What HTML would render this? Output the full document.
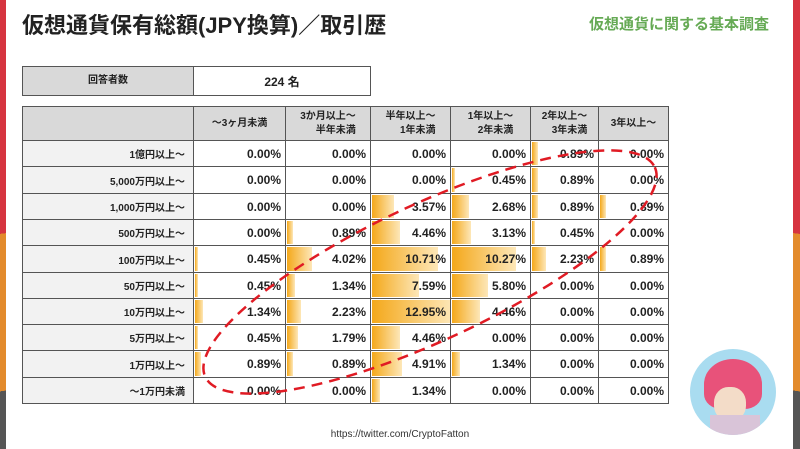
<!DOCTYPE html>
<html><head><meta charset="utf-8"><style>
body{margin:0;width:800px;height:449px;background:#fff;position:relative;overflow:hidden;font-family:"Liberation Sans","Noto Sans CJK JP",sans-serif}
.a{position:absolute}
.c{position:absolute;box-sizing:border-box;border:1px solid #555;font-weight:bold;font-size:12px;color:#222;overflow:hidden}
.bar{position:absolute;left:1px;top:1px;bottom:1px;background:linear-gradient(to right,#f4a81a,#fde7b8)}
.t{position:absolute;right:4px;top:0;bottom:0;display:flex;align-items:center}
.h{background:#d9d9d9;font-size:10px;display:flex;align-items:center;justify-content:center;text-align:right;line-height:14px}
.l{background:#f2f2f2;font-size:10px}
</style></head><body>
<div class="a" style="left:0;top:0;width:6px;height:449px;background:linear-gradient(172deg,#d63440 0,#d63440 52%,#e38b2c 52%,#e38b2c 87%,#555 87%)"></div>
<div class="a" style="left:793px;top:0;width:7px;height:449px;background:linear-gradient(188deg,#d63440 0,#d63440 52%,#e38b2c 52%,#e38b2c 87%,#555 87%)"></div>
<div class="a" style="left:22px;top:8px;font-size:22px;font-weight:bold;color:#222">仮想通貨保有総額(JPY換算)／取引歴</div>
<div class="a" style="left:589px;top:13px;font-size:15px;font-weight:bold;color:#6a5">仮想通貨に関する基本調査</div>
<div class="c h" style="left:22px;top:66px;width:172px;height:30px">回答者数</div>
<div class="c" style="left:193px;top:66px;width:178px;height:30px;display:flex;align-items:center;justify-content:center">224 名</div>
<div id="tb"></div>
<svg class="a" style="left:0;top:0" width="800" height="449"><ellipse cx="430" cy="272" rx="248" ry="68" transform="rotate(-25 430 272)" fill="none" stroke="#e01b24" stroke-width="2.5" stroke-dasharray="11 7"/></svg>
<div class="a" style="left:0;width:800px;top:429px;text-align:center;font-size:10px;color:#333">https://twitter.com/CryptoFatton</div>
<div class="a" style="left:690px;top:349px;width:86px;height:86px;border-radius:50%;background:#a9dcf0;overflow:hidden">
<div class="a" style="left:14px;top:10px;width:58px;height:50px;border-radius:50% 50% 30% 30%;background:#e8527a"></div>
<div class="a" style="left:24px;top:38px;width:32px;height:34px;border-radius:45%;background:#f3dcc8"></div>
<div class="a" style="left:20px;top:66px;width:50px;height:30px;background:#d9c4d8"></div>
</div>
<script>
var xs=[22,193,285,370,450,530,598,668];
var heads=["","～3ヶ月未満","3か月以上～<br>半年未満","半年以上～<br>1年未満","1年以上～<br>2年未満","2年以上～<br>3年未満","3年以上～"];
var labels=["1億円以上～","5,000万円以上～","1,000万円以上～","500万円以上～","100万円以上～","50万円以上～","10万円以上～","5万円以上～","1万円以上～","～1万円未満"];
var d=[[0,0,0,0,0.89,0],[0,0,0,0.45,0.89,0],[0,0,3.57,2.68,0.89,0.89],[0,0.89,4.46,3.13,0.45,0],[0.45,4.02,10.71,10.27,2.23,0.89],[0.45,1.34,7.59,5.80,0,0],[1.34,2.23,12.95,4.46,0,0],[0.45,1.79,4.46,0,0,0],[0.89,0.89,4.91,1.34,0,0],[0,0,1.34,0,0,0]];
var h="";
for(var i=0;i<7;i++){h+='<div class="c h" style="left:'+xs[i]+'px;top:106px;width:'+(xs[i+1]-xs[i]+1)+'px;height:35px">'+heads[i]+'</div>';}
for(var r=0;r<10;r++){var y=Math.round(140+r*26.3),y2=Math.round(140+(r+1)*26.3),hh=y2-y+1;
h+='<div class="c l" style="left:22px;top:'+y+'px;width:172px;height:'+hh+'px"><span class="t" style="right:8px">'+labels[r]+'</span></div>';
for(var i=0;i<6;i++){var v=d[r][i];h+='<div class="c" style="left:'+xs[i+1]+'px;top:'+y+'px;width:'+(xs[i+2]-xs[i+1]+1)+'px;height:'+hh+'px">'+(v>0?'<div class="bar" style="width:'+Math.max(3,v*6.2)+'px"></div>':'')+'<span class="t">'+v.toFixed(2)+'%</span></div>';}}
document.getElementById("tb").innerHTML=h;
</script>
</body></html>
